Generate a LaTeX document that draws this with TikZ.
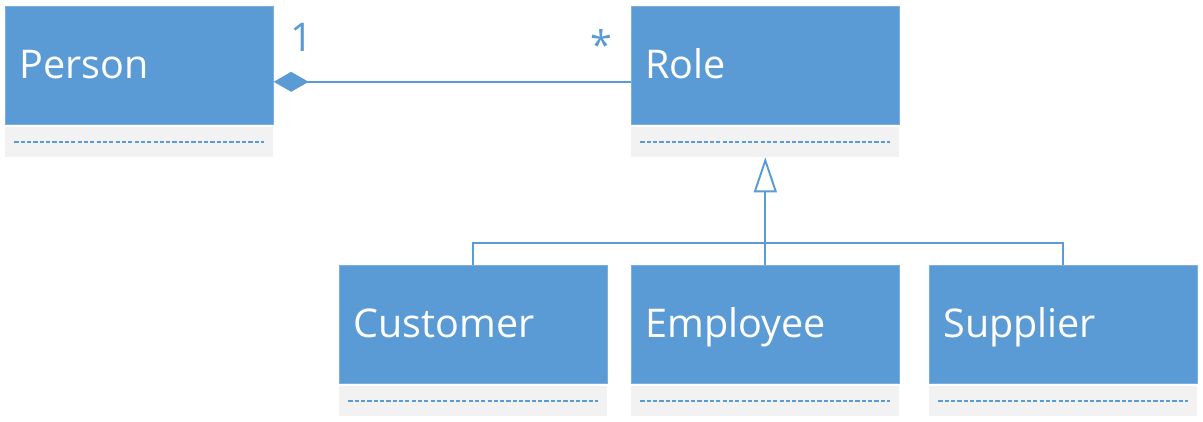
\documentclass[tikz,border=0pt]{standalone}
\usepackage{fontspec}
\setmainfont{Open Sans}
\usetikzlibrary{positioning,arrows.meta,calc}
\definecolor{umlblue}{HTML}{5B9BD5}
\definecolor{umlgrey}{HTML}{F2F2F2}
\begin{document}
\begin{tikzpicture}[
        x=0.02cm, y=-0.02cm,
        classbox/.style={anchor=north west, fill=umlblue, draw=umlblue!80!white, line width=0.4pt,
            minimum width=5.36cm, minimum height=2.36cm, text width=4.8cm, inner xsep=0.27cm,
            text height=17pt, text depth=1.6pt,
            align=left, text=white, font=\fontsize{22.5}{27}\selectfont},
        attrbox/.style={fill=umlgrey, minimum width=5.36cm, minimum height=0.6cm, inner sep=0pt,
            below=0.04cm of #1,
            path picture={\draw[umlblue, line width=0.9pt, dash pattern=on 2.4pt off 1.2pt]
                ([xshift=0.18cm]path picture bounding box.west) -- ([xshift=-0.18cm]path picture bounding box.east);}},
        mult/.style={text=umlblue, font=\fontsize{22.5}{27}\selectfont, inner sep=0pt},
        assoc/.style={draw=umlblue, line width=1.1pt},
        gen/.style={draw=umlblue, line width=1.1pt}
        ]
        \useasboundingbox (0,0) rectangle (1203,422);
        % classes
        \node[classbox] (person) at (5,6) {Person};
        \node[attrbox=person] (person-attr) {};
        \node[classbox] (role) at (631,6) {Role};
        \node[attrbox=role] (role-attr) {};
        \node[classbox] (customer) at (339,265) {Customer};
        \node[attrbox=customer] (customer-attr) {};
        \node[classbox] (employee) at (631,265) {Employee};
        \node[attrbox=employee] (employee-attr) {};
        \node[classbox] (supplier) at (929,265) {Supplier};
        \node[attrbox=supplier] (supplier-attr) {};
        % composition
        \coordinate (comp) at ($(person.east)+(0,16.5)$);
        \draw[assoc, {Diamond[length=0.7cm, width=0.4cm]}-] (comp) -- (comp -| role.west);
        \node[mult] (one) at (302,37) {1};
        \node[mult] (many) at (601,44) {*};
        % generalization
        \draw[gen, -{Triangle[open, length=0.7cm, width=0.46cm, fill=white]}] (employee.north) -- (role-attr.south);
        \draw[gen] (customer.north) -- ++(0,-22) -| (supplier.north);
\end{tikzpicture}
\end{document}
